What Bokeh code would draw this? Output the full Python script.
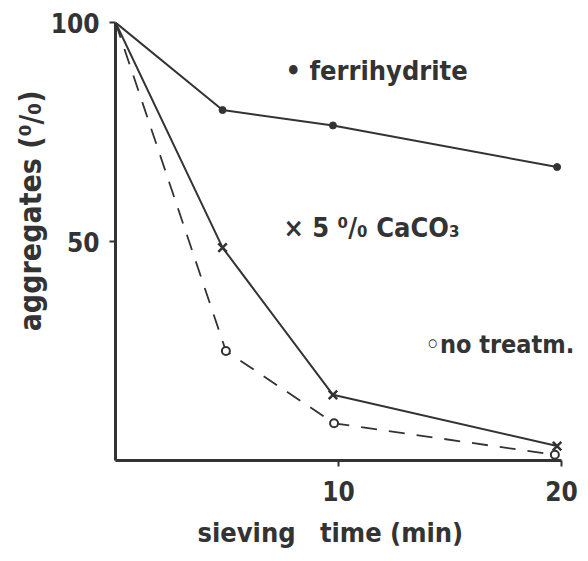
from bokeh.plotting import figure
from bokeh.models import Range1d, FixedTicker, Label, Title
from bokeh.embed import file_html
from bokeh.resources import INLINE

# data (sieving time in min, aggregates in %)
t_ferri = [0, 4.8, 9.75, 19.8]
ferrihydrite = [100, 80, 76.5, 67]
t_caco3 = [0, 4.8, 9.75, 19.8]
caco3 = [100, 48.6, 15, 3.3]
t_none = [0, 4.95, 9.8, 19.7]
no_treatm = [100, 25, 8.5, 1.3]

x_ticks = [10, 20]
y_ticks = [50, 100]

FONT = "DejaVu Sans Condensed, Liberation Sans, sans-serif"
INK = "#333333"

p = figure(width=580, height=560, output_backend="svg", toolbar_location=None,
           x_range=Range1d(0, 20.85), y_range=Range1d(0, 100),
           min_border_left=115, min_border_right=0, min_border_top=22, min_border_bottom=100)
p.grid.visible = False
p.outline_line_color = None
p.background_fill_color = "white"

for ax in (p.xaxis[0], p.yaxis[0]):
    ax.axis_line_color = INK
    ax.axis_line_width = 3
    ax.major_tick_line_color = INK
    ax.major_tick_line_width = 2
    ax.major_tick_in = 0
    ax.major_tick_out = 6
    ax.minor_tick_line_color = None
    ax.major_label_text_font = FONT
    ax.major_label_text_font_style = "bold"
    ax.major_label_text_font_size = "26px"
    ax.major_label_text_color = INK

p.xaxis.bounds = (0, 20)
p.xaxis.ticker = FixedTicker(ticks=x_ticks)
p.yaxis.ticker = FixedTicker(ticks=y_ticks)
p.xaxis.major_label_standoff = 14
p.yaxis.major_label_standoff = 10

ytitle = Title(text="aggregates (\u2070/\u2080)", align="right", offset=68,
               text_font=FONT, text_font_style="bold", text_font_size="30px",
               text_color=INK, standoff=0)
p.add_layout(ytitle, "left")

xtitle = Title(text="sieving\u2002\u2002time (min)", align="left", offset=82,
               text_font=FONT, text_font_style="bold", text_font_size="27px",
               text_color=INK, standoff=22)
p.add_layout(xtitle, "below")

# series
p.line(t_ferri, ferrihydrite, line_color=INK, line_width=2)
p.scatter(t_ferri[1:], ferrihydrite[1:], marker="circle", size=7, fill_color=INK, line_color=INK)

p.line(t_caco3, caco3, line_color=INK, line_width=2)
p.scatter(t_caco3[1:], caco3[1:], marker="x", size=12, line_color=INK, line_width=2.5)

p.line(t_none, no_treatm, line_color=INK, line_width=1.8, line_dash="16 12")
p.scatter(t_none[1:], no_treatm[1:], marker="circle", size=8, fill_color="white", line_color=INK, line_width=2)

def lab(x, y, text, size="27px", **kw):
    p.add_layout(Label(x=x, y=y, text=text, text_font=FONT, text_font_style="bold",
                       text_font_size=size, text_color=INK, text_baseline="alphabetic", **kw))

lab(7.62, 89.0, "\u2022 ferrihydrite")
lab(7.53, 53.2, "\u00d7 5 \u2070/\u2080 CaCO\u2083")
lab(13.9, 26.4, "\u25e6no treatm.", size="25px")

open("out.html", "w").write(file_html(p, INLINE))
